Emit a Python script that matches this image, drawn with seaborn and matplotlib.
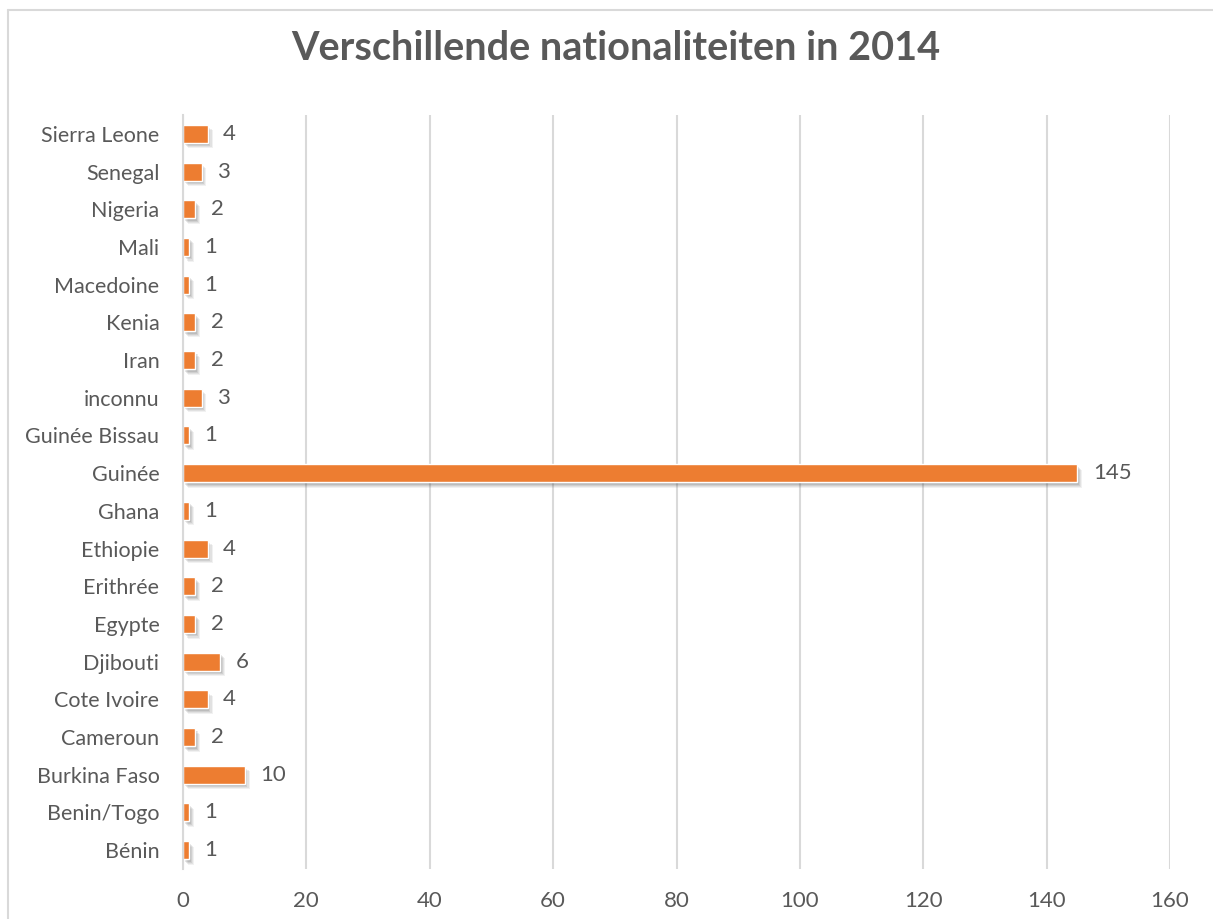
import matplotlib
matplotlib.use("Agg")
import matplotlib.pyplot as plt
import matplotlib.patheffects as pe
from matplotlib.lines import Line2D
import seaborn as sns

sns.set_style("white")
plt.rcParams['font.family'] = ['Lato', 'DejaVu Sans']

countries = ['Sierra Leone', 'Senegal', 'Nigeria', 'Mali', 'Macedoine', 'Kenia',
             'Iran', 'inconnu', 'Guinée Bissau', 'Guinée', 'Ghana', 'Ethiopie',
             'Erithrée', 'Egypte', 'Djibouti', 'Cote Ivoire', 'Cameroun',
             'Burkina Faso', 'Benin/Togo', 'Bénin']
counts = [4, 3, 2, 1, 1, 2, 2, 3, 1, 145, 1, 4, 2, 2, 6, 4, 2, 10, 1, 1]
xticks = [0, 20, 40, 60, 80, 100, 120, 140, 160]

text_col = '#595959'
grid_col = '#d9d9d9'

fig = plt.figure(figsize=(12.13, 9.19), dpi=100)
ax = fig.add_axes([183 / 1213, 1 - 869 / 919, 987 / 1213, 754 / 919])

sns.barplot(x=counts, y=countries, orient='h', color='#ED7D31',
            width=0.48, ax=ax, saturation=1)

# soft drop shadow, built from a few faint offset copies
shadow = [pe.SimplePatchShadow(offset=(o, -o - 0.5), shadow_rgbFace='#404040', alpha=a)
          for o, a in [(3.5, 0.07), (2.8, 0.09), (2.0, 0.11), (1.3, 0.13)]]
for p in ax.patches:
    p.set_path_effects(shadow + [pe.Normal()])

ax.bar_label(ax.containers[0], padding=11, fontsize=16, color=text_col)

ax.set_xlim(0, 160)
ax.set_xticks(xticks)
ax.xaxis.grid(True, color=grid_col, linewidth=1.5)
ax.set_axisbelow(True)
for s in ['top', 'right', 'bottom']:
    ax.spines[s].set_visible(False)
ax.spines['left'].set_color(grid_col)
ax.spines['left'].set_linewidth(1.5)
ax.tick_params(axis='both', length=0, labelsize=16, labelcolor=text_col)
ax.tick_params(axis='y', labelsize=15.5, pad=17)
ax.tick_params(axis='x', pad=16)
ax.set_xlabel('')
ax.set_ylabel('')

fig.text(0.508, 1 - 48 / 919, 'Verschillende nationaliteiten in 2014', ha='center', va='center',
         fontsize=28.5, fontweight='bold', color=text_col)

# chart border
fig.add_artist(Line2D([7.5 / 1213, 7.5 / 1213], [0, 1 - 9.5 / 919], transform=fig.transFigure,
                      color=grid_col, linewidth=1.5))
fig.add_artist(Line2D([7.5 / 1213, 1], [1 - 9.5 / 919, 1 - 9.5 / 919], transform=fig.transFigure,
                      color=grid_col, linewidth=1.5))

fig.savefig('out.png', dpi=100)
